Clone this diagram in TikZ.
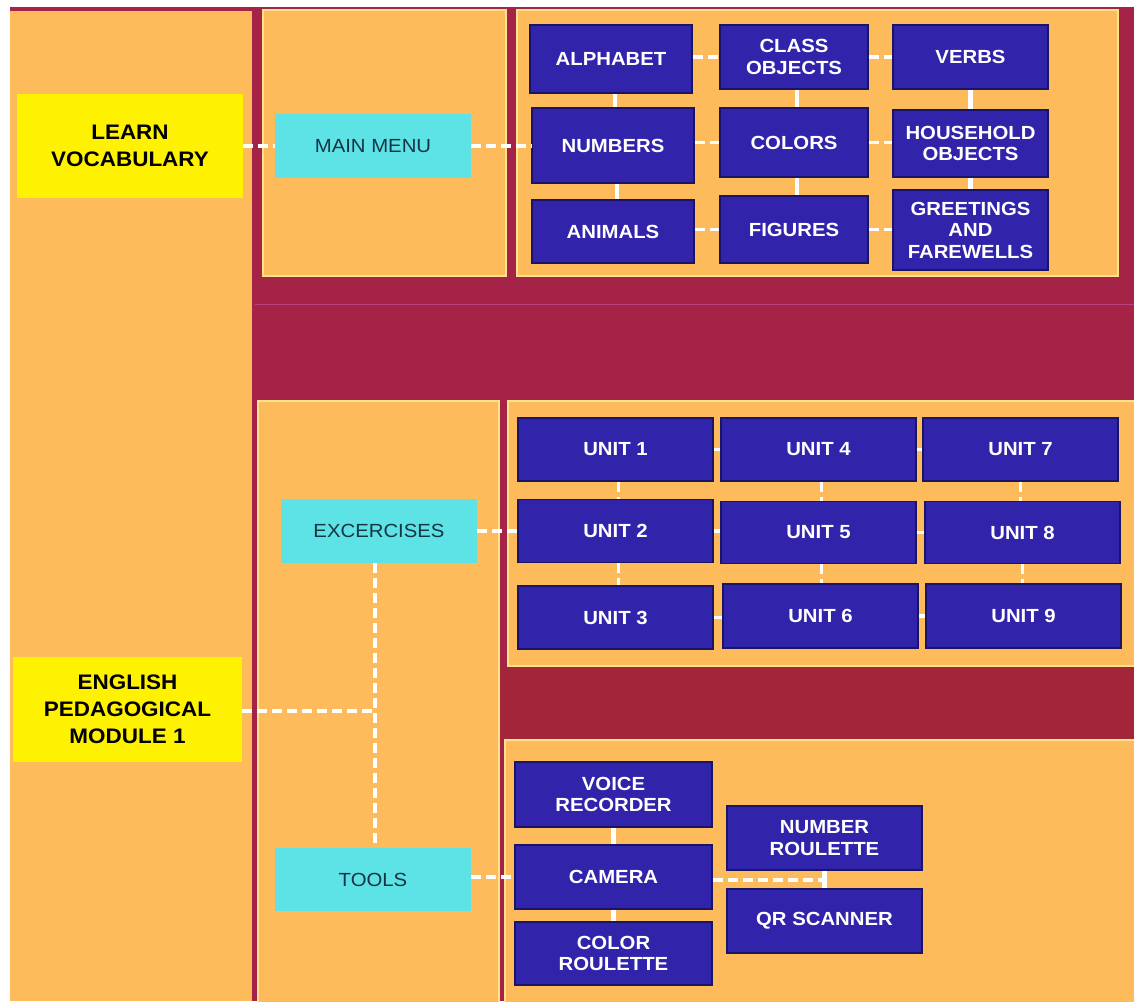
\documentclass[tikz,border=0pt]{standalone}
\usepackage{fontspec}
\setmainfont{Liberation Sans}[FakeStretch=1.07]
\usepackage{xcolor}
\definecolor{bandred}{HTML}{A52346}
\definecolor{bandmid}{HTML}{A3253A}
\definecolor{panelfill}{HTML}{FEBB5B}
\definecolor{panelrim}{HTML}{FFE38C}
\definecolor{cardblue}{HTML}{3123AA}
\definecolor{cardrim}{HTML}{1A1466}
\definecolor{menucyan}{HTML}{5DE2E6}
\definecolor{menuink}{HTML}{163543}
\definecolor{seamline}{HTML}{B8407C}
\tikzset{
  panel/.style={fill=panelfill, draw=panelrim, line width=1.5},
  card/.style={fill=cardblue, draw=cardrim, line width=1.5, text=white, align=center, inner sep=2, font=\fontsize{19}{21.5}\selectfont\bfseries},
  menu/.style={fill=menucyan, text=menuink, minimum width=196, minimum height=64, font=\fontsize{19}{22}\selectfont},
  title/.style={fill=yellow, text=black, align=center, font=\fontsize{21}{27}\selectfont\bfseries},
  link/.style={draw=white, line width=3.5, dash pattern=on 10pt off 5pt},
  stub/.style={draw=white, line width=4.5},
}

\begin{document}
\begin{tikzpicture}[x=1pt, y=1pt, yscale=-1, xscale=1]
\useasboundingbox (0,0) rectangle (1134,1001);
%Background
\fill[white] (0,0) rectangle (1134,1001);
\fill[bandred] (10,7) rectangle (1134,1001);
\fill[bandmid] (500,666) rectangle (1134,740);
\fill[panelfill] (10,11) rectangle (252,1001);
\draw[seamline, line width=0.8] (255,304) -- (1134,304);
\draw[panel] (263,10) rectangle (506,276);
\draw[panel] (517,10) rectangle (1118,276);
\draw[panel] (258,401) rectangle (499,1003);
\draw[panel] (508,401) rectangle (1136,666);
\draw[panel] (505,740) rectangle (1136,1003);
%Start boxes
\node[title, minimum width=226, minimum height=104] (learn) at (130,146) {LEARN\\VOCABULARY};
\node[title, minimum width=229, minimum height=105] (module) at (127.5,709.5) {ENGLISH\\PEDAGOGICAL\\MODULE 1};
%Menus
\node[menu] (mainmenu) at (373,146) {MAIN MENU};
\node[menu] (exercises) at (379,531) {EXCERCISES};
\node[menu, minimum height=63] (tools) at (373,879.5) {TOOLS};
%Vocabulary
\node[card, minimum width=162, minimum height=68] (alphabet) at (611,59) {ALPHABET};
\node[card, minimum width=148, minimum height=64] (classobj) at (794,57) {CLASS\\OBJECTS};
\node[card, minimum width=155, minimum height=64] (verbs) at (970.5,57) {VERBS};
\node[card, minimum width=162, minimum height=75] (numbers) at (613,145.5) {NUMBERS};
\node[card, minimum width=148, minimum height=69] (colors) at (794,142.5) {COLORS};
\node[card, minimum width=155, minimum height=67] (household) at (970.5,143.5) {HOUSEHOLD\\OBJECTS};
\node[card, minimum width=162, minimum height=63] (animals) at (613,231.5) {ANIMALS};
\node[card, minimum width=148, minimum height=67] (figures) at (794,229.5) {FIGURES};
\node[card, minimum width=155, minimum height=80] (greetings) at (970.5,230) {GREETINGS\\AND\\FAREWELLS};
%Units
\node[card, minimum width=195, minimum height=63] (unit1) at (615.5,449.5) {UNIT 1};
\node[card, minimum width=195, minimum height=63] (unit4) at (818.5,449.5) {UNIT 4};
\node[card, minimum width=195, minimum height=63] (unit7) at (1020.5,449.5) {UNIT 7};
\node[card, minimum width=195, minimum height=63] (unit2) at (615.5,531) {UNIT 2};
\node[card, minimum width=195, minimum height=62] (unit5) at (818.5,532.5) {UNIT 5};
\node[card, minimum width=195, minimum height=62] (unit8) at (1022.5,532.5) {UNIT 8};
\node[card, minimum width=195, minimum height=63] (unit3) at (615.5,617.5) {UNIT 3};
\node[card, minimum width=195, minimum height=64] (unit6) at (820.5,616) {UNIT 6};
\node[card, minimum width=195, minimum height=64] (unit9) at (1023.5,616) {UNIT 9};
%Tools
\node[card, minimum width=197, minimum height=65] (voice) at (613.5,794.5) {VOICE\\RECORDER};
\node[card, minimum width=197, minimum height=64] (camera) at (613.5,877) {CAMERA};
\node[card, minimum width=197, minimum height=63] (colorroul) at (613.5,953.5) {COLOR\\ROULETTE};
\node[card, minimum width=195, minimum height=64] (numroul) at (824.5,838) {NUMBER\\ROULETTE};
\node[card, minimum width=195, minimum height=64] (qrscan) at (824.5,921) {QR SCANNER};
\coordinate (split) at (375,711);
%Links
\draw[link] (learn.east) -- (mainmenu.west);
\draw[link] (mainmenu.east) -- (numbers.west |- mainmenu.east);
\draw[link] (alphabet.east |- classobj.west) -- (classobj.west);
\draw[link] (classobj.east) -- (verbs.west);
\draw[link] (numbers.east |- colors.west) -- (colors.west);
\draw[link] (colors.east) -- (household.west |- colors.east);
\draw[link] (animals.east |- figures.west) -- (figures.west);
\draw[link] (figures.east) -- (greetings.west |- figures.east);
\draw[stub] ([xshift=4]alphabet.south) -- ([xshift=4]alphabet.south |- numbers.north);
\draw[stub] ([xshift=4]numbers.south) -- ([xshift=4]numbers.south |- animals.north);
\draw[stub] ([xshift=3]classobj.south) -- ([xshift=3]classobj.south |- colors.north);
\draw[stub] ([xshift=3]colors.south) -- ([xshift=3]colors.south |- figures.north);
\draw[stub] (verbs.south) -- (verbs.south |- household.north);
\draw[stub] (household.south) -- (household.south |- greetings.north);
\draw[link] (module.east |- split) -- (split);
\draw[link] (exercises.south -| split) -- (tools.north -| split);
\draw[link] (exercises.east) -- (unit2.west);
\draw[link] (unit1.east) -- (unit4.west);
\draw[link] (unit4.east) -- (unit7.west);
\draw[link] (unit2.east) -- (unit5.west |- unit2.east);
\draw[link] (unit5.east) -- (unit8.west);
\draw[link] (unit3.east) -- (unit6.west |- unit3.east);
\draw[link] (unit6.east) -- (unit9.west);
\draw[link] ([xshift=3]unit1.south) -- ([xshift=3]unit1.south |- unit2.north);
\draw[link] ([xshift=3]unit2.south) -- ([xshift=3]unit2.south |- unit3.north);
\draw[link] ([xshift=3]unit4.south) -- ([xshift=3]unit4.south |- unit5.north);
\draw[link] ([xshift=3]unit5.south) -- ([xshift=3]unit5.south |- unit6.north);
\draw[link] (unit7.south) -- (unit7.south |- unit8.north);
\draw[link] (unit8.south) -- (unit8.south |- unit9.north);
\draw[link] (tools.east |- camera.west) -- (camera.west);
\draw[stub] (voice.south) -- (camera.north);
\draw[stub] (camera.south) -- (colorroul.north);
\draw[link] ([yshift=3]camera.east) -- ([yshift=3]camera.east -| numroul.south);
\draw[stub] (numroul.south) -- (qrscan.north);
\end{tikzpicture}
\end{document}
